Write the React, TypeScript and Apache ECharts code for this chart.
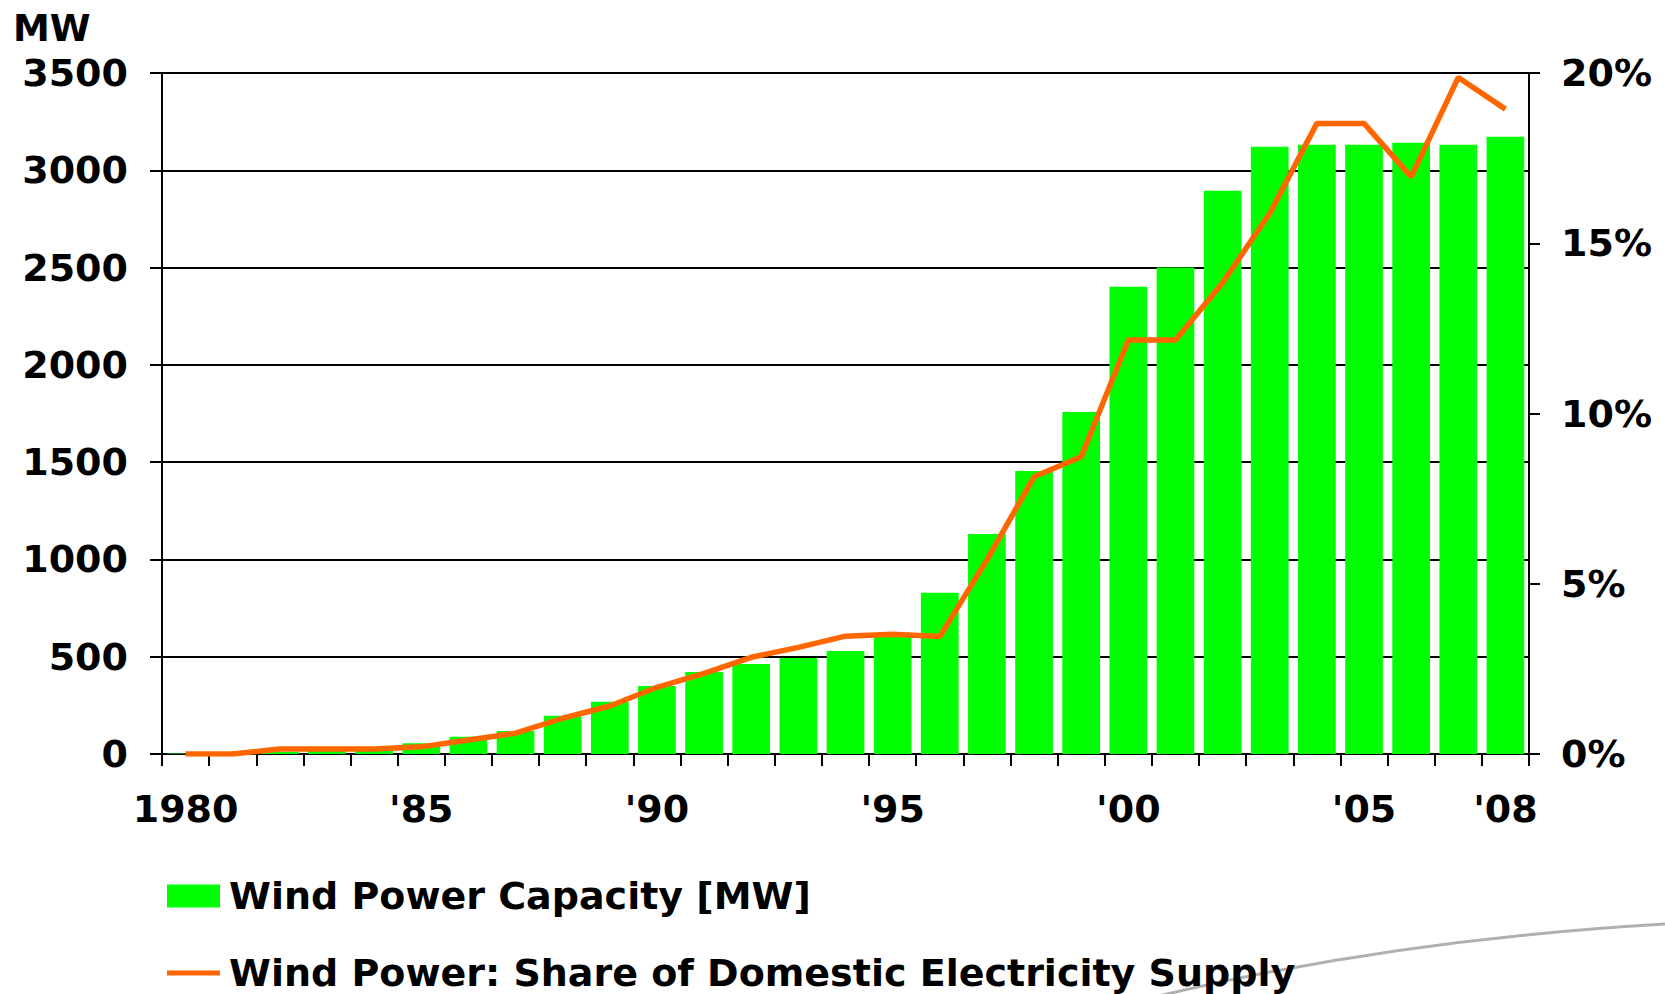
import React, { useEffect, useRef } from "react";
import * as echarts from "echarts";

const years = [
  "1980", "1981", "1982", "1983", "1984", "1985", "1986", "1987", "1988", "1989",
  "1990", "1991", "1992", "1993", "1994", "1995", "1996", "1997", "1998", "1999",
  "2000", "2001", "2002", "2003", "2004", "2005", "2006", "2007", "2008",
];

// Wind power capacity [MW]
const capacity = [
  3, 5, 10, 15, 22, 55, 89, 118, 196, 268,
  350, 422, 463, 494, 530, 605, 829, 1131, 1455, 1758,
  2401, 2500, 2895, 3121, 3131, 3131, 3142, 3131, 3172,
];

// Share of domestic electricity supply [%]
const share = [
  0.0, 0.0, 0.15, 0.15, 0.15, 0.21, 0.41, 0.61, 1.05, 1.41,
  1.96, 2.37, 2.84, 3.13, 3.46, 3.52, 3.45, 5.7, 8.14, 8.73,
  12.16, 12.16, 13.84, 15.88, 18.52, 18.52, 16.95, 19.87, 18.94,
];

const xTickIndex = [0, 5, 10, 15, 20, 25, 28];
const xTickLabels = ["1980", "'85", "'90", "'95", "'00", "'05", "'08"];

const capName = "Wind Power Capacity [MW]";
const shareName = "Wind Power: Share of Domestic Electricity Supply";

const FONT = "DejaVu Sans";

export default function App() {
  const ref = useRef<HTMLDivElement>(null);

  useEffect(() => {
    if (!ref.current) return;
    const chart = echarts.init(ref.current, undefined, { renderer: "svg" });
    const labelStyle = {
      fontFamily: FONT,
      fontWeight: "bold" as const,
      fontSize: 38,
      color: "#000",
    };
    const legendBase = {
      orient: "horizontal" as const,
      left: 162,
      itemWidth: 53,
      itemHeight: 23,
      selectedMode: false,
      textStyle: { ...labelStyle, padding: [0, 0, 0, 4] },
    };
    chart.setOption({
      animation: false,
      backgroundColor: "#fff",
      grid: { left: 162, right: 136, top: 73, bottom: 240, containLabel: false },
      xAxis: {
        type: "category",
        data: years,
        boundaryGap: true,
        axisLine: { show: true, lineStyle: { color: "#000", width: 2 } },
        axisTick: { show: true, interval: 0, length: 12, lineStyle: { color: "#000", width: 2 } },
        axisLabel: {
          ...labelStyle,
          margin: 36,
          interval: (index: number) => xTickIndex.includes(index),
          formatter: (_v: string, index: number) => {
            const i = xTickIndex.indexOf(index);
            return i >= 0 ? xTickLabels[i] : "";
          },
        },
        splitLine: { show: false },
      },
      yAxis: [
        {
          type: "value",
          min: 0,
          max: 3500,
          interval: 500,
          position: "left",
          axisLine: { show: true, lineStyle: { color: "#000", width: 2 } },
          axisTick: { show: true, length: 12, lineStyle: { color: "#000", width: 2 } },
          axisLabel: { ...labelStyle, margin: 34, formatter: (v: number) => String(v) },
          splitLine: { show: true, lineStyle: { color: "#000", width: 2 } },
        },
        {
          type: "value",
          min: 0,
          max: 20,
          interval: 5,
          position: "right",
          axisLine: { show: true, lineStyle: { color: "#000", width: 2 } },
          axisTick: { show: true, length: 11, lineStyle: { color: "#000", width: 2 } },
          axisLabel: { ...labelStyle, margin: 32, formatter: (v: number) => v + "%" },
          splitLine: { show: false },
        },
      ],
      legend: [
        { ...legendBase, top: 872, data: [{ name: capName, icon: "rect" }] },
        { ...legendBase, top: 949, data: [{ name: shareName, icon: "path://M0,0H53V5H0Z" }] },
      ],
      graphic: [
        {
          type: "text",
          left: 13,
          top: 10,
          z: 10,
          style: { text: "MW", fontFamily: FONT, fontWeight: "bold", fontSize: 37, fill: "#000" },
        },
        {
          type: "bezierCurve",
          z: -1,
          shape: { x1: 1150, y1: 998, cpx1: 1389, cpy1: 940, x2: 1665, y2: 924 },
          style: { stroke: "#b0b0b0", lineWidth: 3, fill: "none" },
        },
      ],
      series: [
        {
          name: capName,
          type: "bar",
          data: capacity,
          yAxisIndex: 0,
          barCategoryGap: "20%",
          itemStyle: { color: "#00ff00" },
          z: 2,
        },
        {
          name: shareName,
          type: "line",
          data: share,
          yAxisIndex: 1,
          symbol: "none",
          lineStyle: { color: "#ff6600", width: 5.5 },
          itemStyle: { color: "#ff6600" },
          z: 3,
        },
      ],
    });
    return () => chart.dispose();
  }, []);

  return (
    <div
      ref={ref}
      style={{ position: "absolute", left: 0, top: 0, width: 1665, height: 994 }}
    />
  );
}
